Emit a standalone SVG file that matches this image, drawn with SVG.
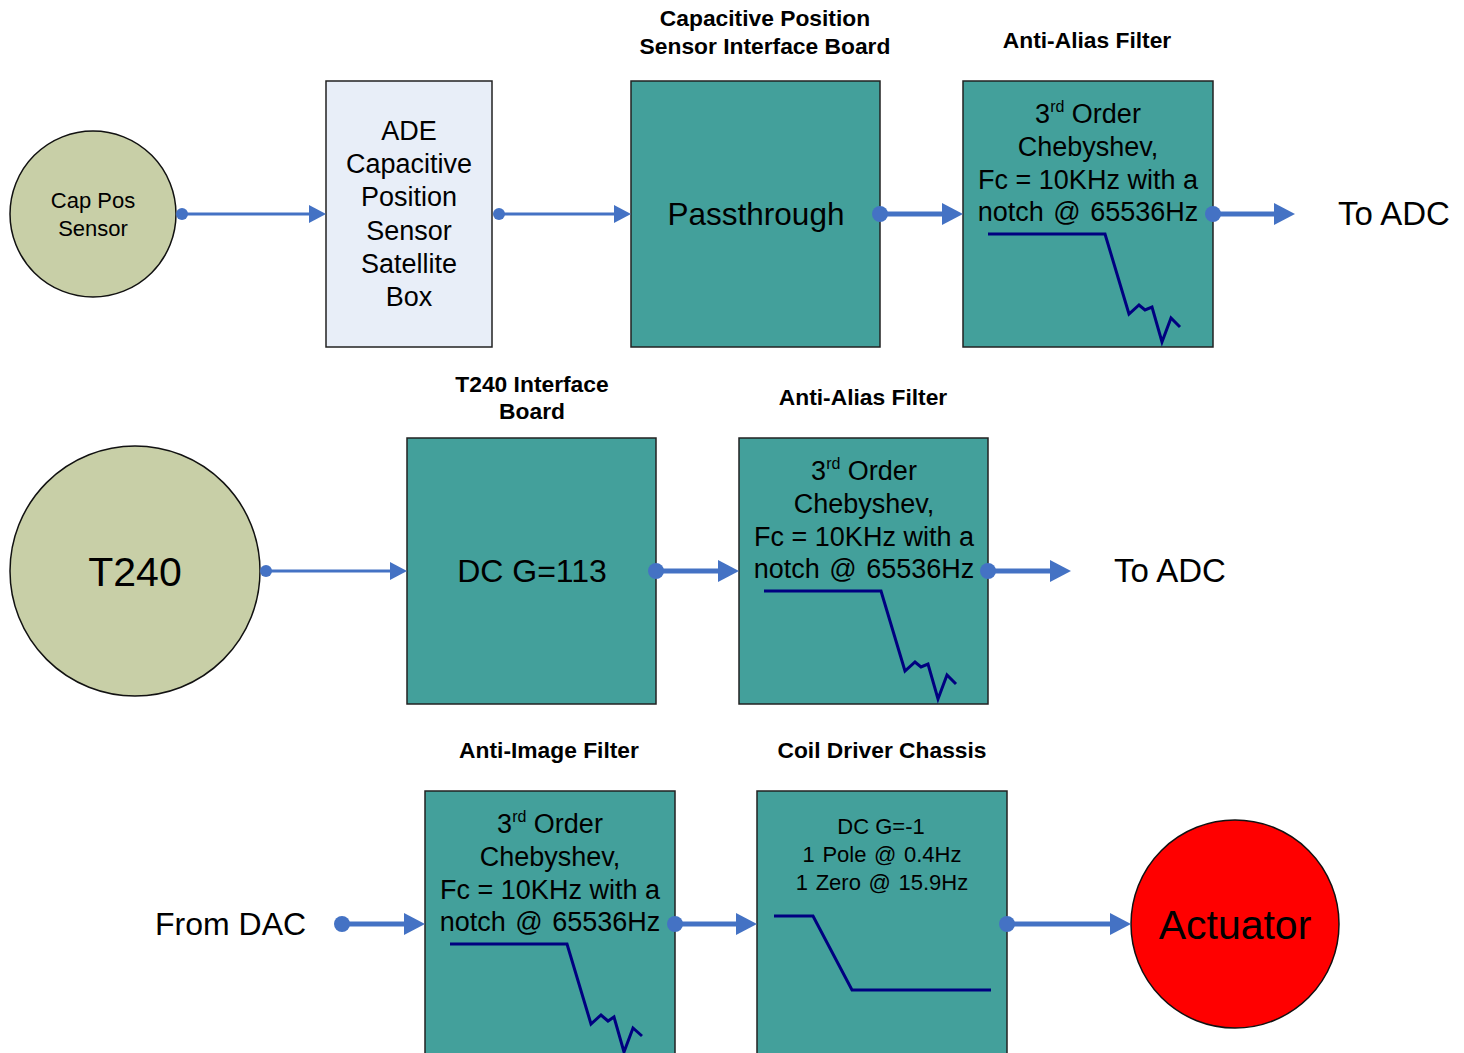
<svg xmlns="http://www.w3.org/2000/svg" width="1464" height="1053" viewBox="0 0 1464 1053">
<style>
text{font-family:"Liberation Sans",Arial,sans-serif;fill:#000}
.t{font-weight:bold;font-size:22.8px;text-anchor:middle}
.b{font-size:27px;text-anchor:middle}
.s{font-size:22px;text-anchor:middle}
.box{fill:#43A09B;stroke:#222;stroke-width:1.5}
.curve{fill:none;stroke:#000080;stroke-width:3;stroke-linejoin:miter}
.thin{stroke:#4472C4;stroke-width:3;fill:none}
.thick{stroke:#4472C4;stroke-width:5;fill:none}
.node{fill:#C8CFA7;stroke:#111;stroke-width:1.5}
</style>
<defs>
<marker id="ahThin" markerUnits="userSpaceOnUse" markerWidth="18" markerHeight="18" refX="0" refY="9" orient="auto"><path d="M0,0 L17,9 L0,18 Z" fill="#4472C4"/></marker>
<marker id="ahThick" markerUnits="userSpaceOnUse" markerWidth="22" markerHeight="22" refX="0" refY="11" orient="auto"><path d="M0,0 L21,11 L0,22 Z" fill="#4472C4"/></marker>
<marker id="dotThin" markerUnits="userSpaceOnUse" markerWidth="14" markerHeight="14" refX="7" refY="7"><circle cx="7" cy="7" r="6" fill="#4472C4"/></marker>
<marker id="dotThick" markerUnits="userSpaceOnUse" markerWidth="18" markerHeight="18" refX="9" refY="9"><circle cx="9" cy="9" r="8" fill="#4472C4"/></marker>
</defs>

<g id="cap-pos-sensor">
<circle class="node" cx="93" cy="214" r="83"/>
<text class="s" x="93" y="208">Cap Pos</text>
<text class="s" x="93" y="236">Sensor</text>
</g>

<g id="ade-box">
<rect x="326" y="81" width="166" height="266" fill="#E8EEF8" stroke="#222" stroke-width="1.5"/>
<text class="b" x="409" y="140">ADE</text>
<text class="b" x="409" y="173">Capacitive</text>
<text class="b" x="409" y="206">Position</text>
<text class="b" x="409" y="240">Sensor</text>
<text class="b" x="409" y="273">Satellite</text>
<text class="b" x="409" y="306">Box</text>
</g>

<g id="passthrough">
<text class="t" x="765" y="26">Capacitive Position</text>
<text class="t" x="765" y="54">Sensor Interface Board</text>
<rect class="box" x="631" y="81" width="249" height="266"/>
<text x="756" y="225" style="font-size:31.5px;text-anchor:middle">Passthrough</text>
</g>

<g id="aaf-1">
<text class="t" x="1087" y="48">Anti-Alias Filter</text>
<rect class="box" x="963" y="81" width="250" height="266"/>
<text class="b" x="1088" y="123">3<tspan font-size="16" dy="-11">rd</tspan><tspan dy="11"> Order</tspan></text>
<text class="b" x="1088" y="156">Chebyshev,</text>
<text class="b" x="1088" y="189">Fc = 10KHz with a</text>
<text class="b" x="1088" y="221" word-spacing="2">notch @ 65536Hz</text>
<polyline class="curve" points="988,234 1105,234 1129,314 1139,305 1145,310 1152,307 1162,342 1171,318 1180,327"/>
</g>

<text id="to-adc-1" x="1338" y="225" style="font-size:33px">To ADC</text>

<g id="t240">
<circle class="node" cx="135" cy="571" r="125"/>
<text x="135" y="586" style="font-size:41px;text-anchor:middle">T240</text>
</g>

<g id="t240-board">
<text class="t" x="532" y="392">T240 Interface</text>
<text class="t" x="532" y="419">Board</text>
<rect class="box" x="407" y="438" width="249" height="266"/>
<text x="532" y="582" style="font-size:32px;text-anchor:middle">DC G=113</text>
</g>

<g id="aaf-2">
<text class="t" x="863" y="405">Anti-Alias Filter</text>
<rect class="box" x="739" y="438" width="249" height="266"/>
<text class="b" x="864" y="480">3<tspan font-size="16" dy="-11">rd</tspan><tspan dy="11"> Order</tspan></text>
<text class="b" x="864" y="513">Chebyshev,</text>
<text class="b" x="864" y="546">Fc = 10KHz with a</text>
<text class="b" x="864" y="578" word-spacing="2">notch @ 65536Hz</text>
<polyline class="curve" points="764,591 881,591 905,671 915,662 921,667 928,664 938,699 947,675 956,684"/>
</g>

<text id="to-adc-2" x="1114" y="582" style="font-size:33px">To ADC</text>

<text id="from-dac" x="155" y="935" style="font-size:32px">From DAC</text>

<g id="aif">
<text class="t" x="549" y="758">Anti-Image Filter</text>
<rect class="box" x="425" y="791" width="250" height="270"/>
<text class="b" x="550" y="833">3<tspan font-size="16" dy="-11">rd</tspan><tspan dy="11"> Order</tspan></text>
<text class="b" x="550" y="866">Chebyshev,</text>
<text class="b" x="550" y="899">Fc = 10KHz with a</text>
<text class="b" x="550" y="931" word-spacing="2">notch @ 65536Hz</text>
<polyline class="curve" points="450,944 567,944 591,1024 601,1015 608,1021 614,1017 624,1052 633,1028 642,1036"/>
</g>

<g id="coil-driver">
<text class="t" x="882" y="758">Coil Driver Chassis</text>
<rect class="box" x="757" y="791" width="250" height="270"/>
<text class="s" x="881" y="834">DC G=-1</text>
<text class="s" x="882" y="862" word-spacing="1.5">1 Pole @ 0.4Hz</text>
<text class="s" x="882" y="890" word-spacing="1.5">1 Zero @ 15.9Hz</text>
<polyline class="curve" points="774,916 813,916 852,990 991,990"/>
</g>

<g id="actuator">
<ellipse cx="1235" cy="924" rx="104" ry="104" fill="#FF0000" stroke="#111" stroke-width="1.5"/>
<text x="1235" y="939" style="font-size:41px;text-anchor:middle">Actuator</text>
</g>

<g id="connectors">
<line class="thin" x1="182" y1="214" x2="309" y2="214" marker-start="url(#dotThin)" marker-end="url(#ahThin)"/>
<line class="thin" x1="499" y1="214" x2="614" y2="214" marker-start="url(#dotThin)" marker-end="url(#ahThin)"/>
<line class="thick" x1="880" y1="214" x2="942" y2="214" marker-start="url(#dotThick)" marker-end="url(#ahThick)"/>
<line class="thick" x1="1213" y1="214" x2="1274" y2="214" marker-start="url(#dotThick)" marker-end="url(#ahThick)"/>
<line class="thin" x1="266" y1="571" x2="390" y2="571" marker-start="url(#dotThin)" marker-end="url(#ahThin)"/>
<line class="thick" x1="656" y1="571" x2="718" y2="571" marker-start="url(#dotThick)" marker-end="url(#ahThick)"/>
<line class="thick" x1="988" y1="571" x2="1050" y2="571" marker-start="url(#dotThick)" marker-end="url(#ahThick)"/>
<line class="thick" x1="342" y1="924" x2="404" y2="924" marker-start="url(#dotThick)" marker-end="url(#ahThick)"/>
<line class="thick" x1="675" y1="924" x2="736" y2="924" marker-start="url(#dotThick)" marker-end="url(#ahThick)"/>
<line class="thick" x1="1007" y1="924" x2="1110" y2="924" marker-start="url(#dotThick)" marker-end="url(#ahThick)"/>
</g>
</svg>
